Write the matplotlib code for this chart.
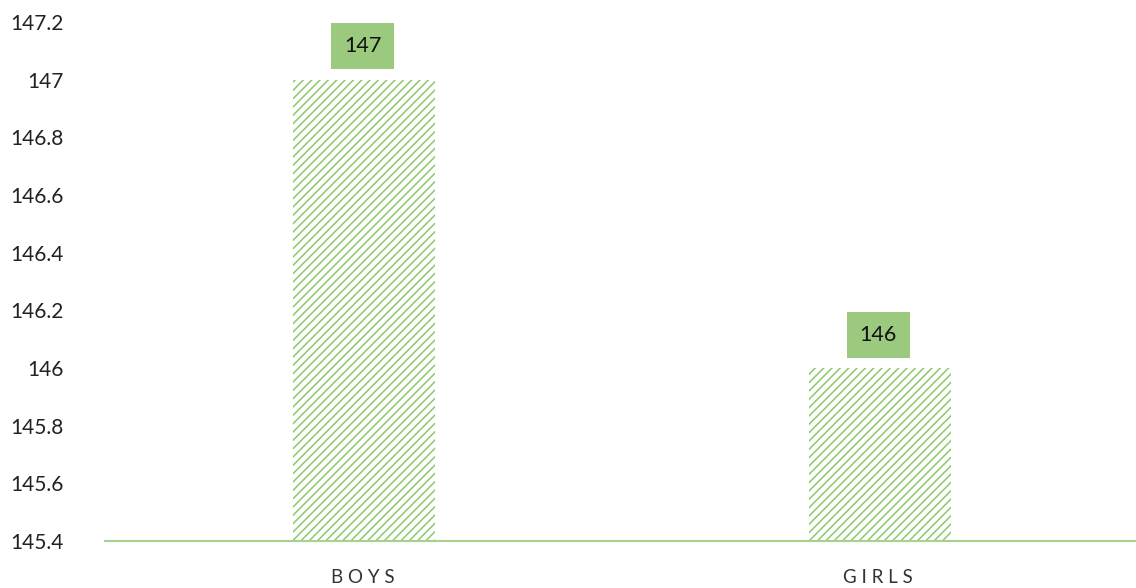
import matplotlib
matplotlib.use("Agg")
import matplotlib.pyplot as plt
from matplotlib.ticker import FixedLocator, FixedFormatter

categories = ["BOYS", "GIRLS"]
values = [147, 146]
yticks = [145.4, 145.6, 145.8, 146, 146.2, 146.4, 146.6, 146.8, 147, 147.2]
ytick_labels = ["145.4", "145.6", "145.8", "146", "146.2", "146.4", "146.6", "146.8", "147", "147.2"]

plt.rcParams['font.family'] = ['Lato', 'DejaVu Sans']
plt.rcParams['hatch.linewidth'] = 1.1

fig = plt.figure(figsize=(11.36, 5.88), dpi=100)
ax = fig.add_axes([0.0924, 0.0799, 0.9076, 0.8827])

green = "#8cc96a"
x = list(range(len(categories)))
bars = ax.bar([xi + 0.003 for xi in x], [v - yticks[0] for v in values], bottom=yticks[0], width=0.275,
              color="white", edgecolor=green, hatch="////", linewidth=0)

ax.set_xlim(-0.5, 1.5)
ax.set_ylim(145.4, 147.2)
ax.yaxis.set_major_locator(FixedLocator(yticks))
ax.yaxis.set_major_formatter(FixedFormatter(ytick_labels))
ax.set_xticks(x)
ax.set_xticklabels([" ".join(c) for c in categories], fontsize=13.5, color="#333333")
ax.tick_params(axis='y', length=0, pad=30, labelsize=15, labelcolor="#222222")
ax.tick_params(axis='x', length=0, pad=20)

for s in ["top", "right", "left"]:
    ax.spines[s].set_visible(False)
ax.spines["bottom"].set_color("#a9d18e")
ax.spines["bottom"].set_linewidth(1.5)

for xi, v in zip(x, values):
    ax.annotate(str(v), xy=(xi, v), xytext=(0, 24), textcoords="offset points",
                ha="center", va="center", fontsize=15.5, color="#111111",
                bbox=dict(boxstyle="square,pad=0.6", facecolor="#9bc97e", edgecolor="none"))

fig.savefig("out.png", dpi=100)
